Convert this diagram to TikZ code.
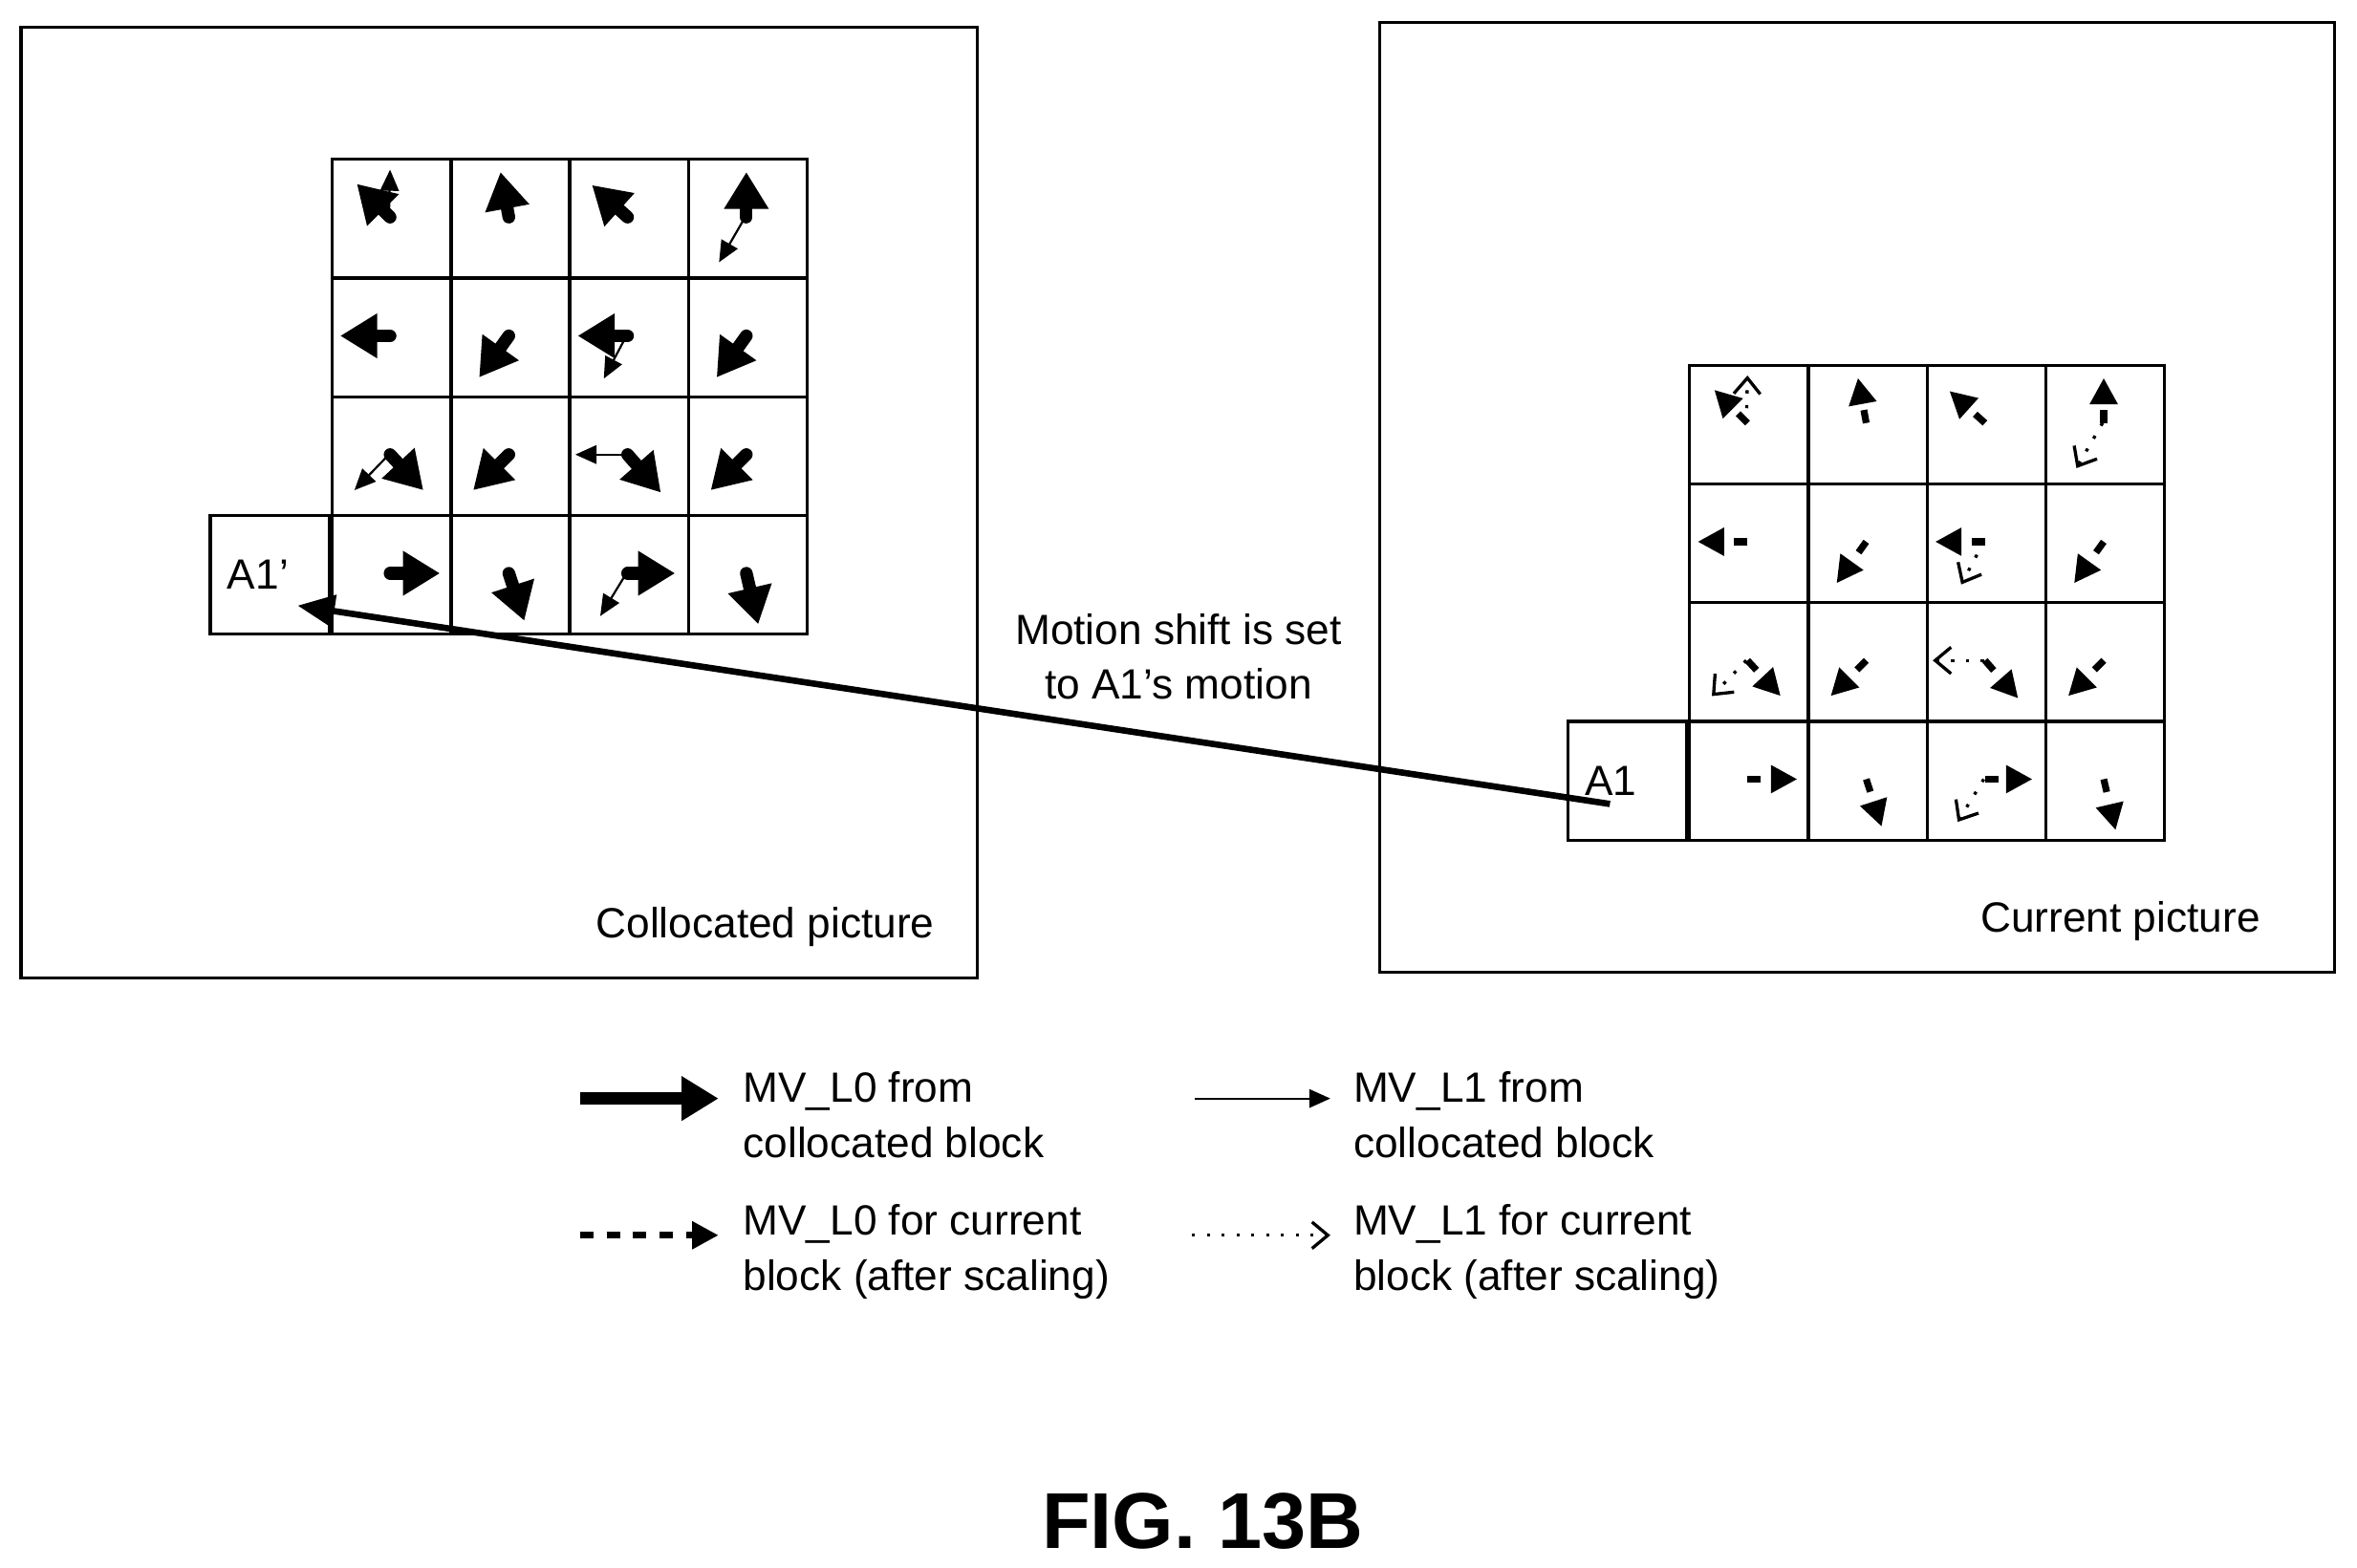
\documentclass[tikz,border=0pt]{standalone}
\usepackage{fontspec}
\setmainfont{Liberation Sans}
\usetikzlibrary{arrows.meta,positioning}
\begin{document}
\begin{tikzpicture}[font=\fontsize{8}{10.4}\selectfont,
    cell/.style={draw,line width=0.6pt,minimum size=0.79cm,inner sep=0pt},
    mvzero/.style={line width=2.4pt,line cap=round,-{Triangle[length=7pt,width=8pt]}},
    mvone/.style={line width=0.4pt,-{Triangle[length=4pt,width=3.5pt]}},
    mvzeros/.style={line width=1.3pt,dash pattern=on 2.5pt off 2.5pt,-{Triangle[length=5pt,width=5pt]}},
    mvones/.style={line width=0.6pt,dash pattern=on 0.6pt off 2.2pt,-{Straight Barb[length=3pt,width=5pt]}}]
  \useasboundingbox (0,0) rectangle (15.68,-10.43);
  % frames
  \draw[line width=0.6pt] (0.14,-0.18) rectangle (6.50,-6.51);
  \draw[line width=0.6pt] (9.18,-0.15) rectangle (15.53,-6.47);
  \node[anchor=east] (colpic) at (6.34,-6.17) {Collocated picture};
  \node[anchor=east] (curpic) at (15.16,-6.13) {Current picture};
  % grids
  \foreach \r in {0,...,3}
    \foreach \c in {0,...,3} {
      \node[cell,anchor=north west] (L-\r-\c) at (2.20+\c*0.79,-1.05-\r*0.79) {};
      \node[cell,anchor=north west] (R-\r-\c) at (11.23+\c*0.79,-2.42-\r*0.79) {};
    }
  \node[cell,left=0pt of L-3-0] (A1p) {};
  \node[cell,left=0pt of R-3-0] (A1) {};
  \node[anchor=west] at (A1p.west) {A1'};
  \node[anchor=west] at (A1.west) {A1};
  % motion vectors
  \foreach \r/\c/\ex/\ey in {0/0/0.22/0.22, 0/1/0.43/0.12, 0/2/0.2/0.23, 0/3/0.5/0.12,
      1/0/0.08/0.5, 1/1/0.25/0.85, 1/2/0.08/0.5, 1/3/0.25/0.85,
      2/0/0.78/0.8, 2/1/0.2/0.8, 2/2/0.78/0.82, 2/3/0.2/0.8,
      3/0/0.92/0.5, 3/1/0.63/0.9, 3/2/0.9/0.5, 3/3/0.6/0.93} {
    \begin{scope}[shift={(L-\r-\c.north west)},x=0.79cm,y=-0.79cm]
      \draw[mvzero] (0.5,0.5) -- (\ex,\ey);
    \end{scope}
    \begin{scope}[shift={(R-\r-\c.north west)},x=0.79cm,y=-0.79cm]
      \draw[mvzeros] (0.5,0.5) -- (\ex,\ey);
    \end{scope}
  }
  \foreach \r/\c/\ex/\ey in {0/0/0.5/0.1, 0/3/0.27/0.88, 1/2/0.3/0.86,
      2/0/0.2/0.8, 2/2/0.06/0.5, 3/2/0.27/0.86} {
    \begin{scope}[shift={(L-\r-\c.north west)},x=0.79cm,y=-0.79cm]
      \draw[mvone] (0.49,0.5) -- (\ex,\ey);
    \end{scope}
    \begin{scope}[shift={(R-\r-\c.north west)},x=0.79cm,y=-0.79cm]
      \draw[mvones] (0.49,0.5) -- (\ex,\ey);
    \end{scope}
  }
  % motion shift
  \coordinate (shiftfrom) at (10.71,-5.35);
  \coordinate (shiftto) at (1.98,-4.03);
  \draw[line width=1.2pt,-{Triangle[length=7pt,width=6pt]}] (shiftfrom) -- (shiftto);
  \node[align=center] (shift) at (7.84,-4.37) {Motion shift is set\\to A1's motion};
  % legend
  \coordinate (k0a) at (3.86,-7.31); \coordinate (k0b) at (4.78,-7.31);
  \coordinate (k1a) at (7.95,-7.31); \coordinate (k1b) at (8.85,-7.31);
  \coordinate (k2a) at (3.86,-8.22); \coordinate (k2b) at (4.78,-8.22);
  \coordinate (k3a) at (7.93,-8.22); \coordinate (k3b) at (8.85,-8.22);
  \draw[mvzero,line cap=butt] (k0a) -- (k0b);
  \draw[mvone] (k1a) -- (k1b);
  \draw[mvzeros] (k2a) -- (k2b);
  \draw[mvones] (k3a) -- (k3b);
  \node[anchor=west,align=left] (t0) at (4.82,-7.42) {MV\_L0 from\\collocated block};
  \node[anchor=west,align=left] (t1) at (8.88,-7.42) {MV\_L1 from\\collocated block};
  \node[anchor=west,align=left] (t2) at (4.82,-8.33) {MV\_L0 for current\\block (after scaling)};
  \node[anchor=west,align=left] (t3) at (8.88,-8.33) {MV\_L1 for current\\block (after scaling)};
  \node[font=\fontsize{15}{18}\selectfont\bfseries] (fig) at (8.00,-10.12) {FIG. 13B};
\end{tikzpicture}
\end{document}
